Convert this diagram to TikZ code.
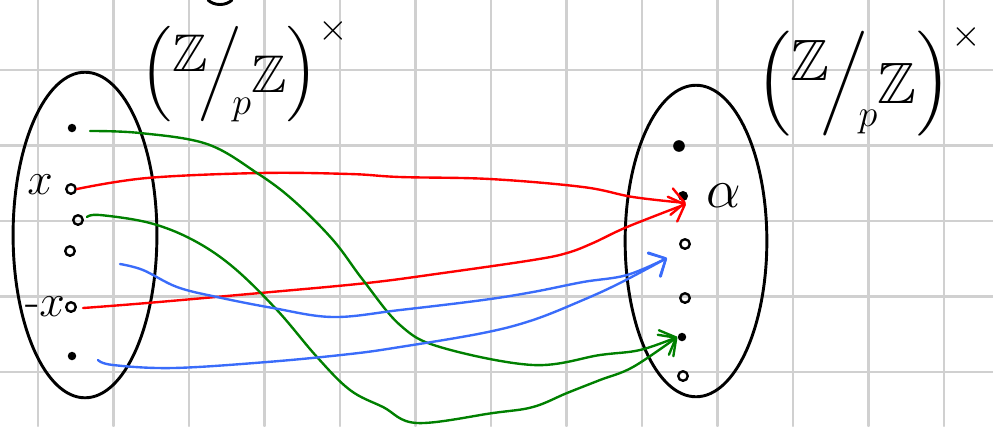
\documentclass[tikz,border=0pt]{standalone}
\usepackage{amssymb}
\usetikzlibrary{shapes.geometric,arrows.meta}
\definecolor{penred}{RGB}{255,0,0}
\definecolor{pengreen}{RGB}{0,128,0}
\definecolor{penblue}{RGB}{58,108,250}
\definecolor{gridgray}{RGB}{208,208,208}
\newcommand{\unitgrp}{$\left(\rule[-0.45em]{0pt}{1.5em}\raisebox{0.3em}{$\mathbb{Z}$}\!\middle/\!\raisebox{-0.5em}{$\scriptstyle p$}\raisebox{-0.1em}{$\mathbb{Z}$}\right)^{\times}$}

\begin{document}
\begin{tikzpicture}[x=0.3775pt, y=-0.3775pt, line cap=round, line join=round,
  set/.style={ellipse, draw, line width=1.1pt, inner sep=0pt},
  dot/.style={circle, fill, inner sep=0pt, minimum size=3.2pt},
  ring/.style={circle, draw, line width=0.9pt, inner sep=0pt, minimum size=3.6pt},
  lbl/.style={inner sep=0pt, font=\fontsize{18}{18}\selectfont},
  map/.style={line width=0.9pt, -{Straight Barb[round, length=5pt, width=10pt]}}]
    \useasboundingbox (0,0) rectangle (993,426);
    % squared paper
    \foreach \gx in {0,...,12}
        \draw[gridgray, line width=0.9pt] ({38+75.5*\gx},0) -- ({38+75.5*\gx},426);
    \foreach \gy in {0,...,4}
        \draw[gridgray, line width=0.9pt] (0,{70+75.5*\gy}) -- (993,{70+75.5*\gy});
    \draw[line width=1.1pt] (208,0) .. controls (214,6) and (226,6) .. (232,0);

    % the two sets
    \node[set, minimum width=54.3pt, minimum height=122.9pt] (setL) at (85,235) {};
    \node[set, minimum width=53.5pt, minimum height=117.6pt] (setR) at (696,241) {};
    \node[lbl, font=\fontsize{20}{20}\selectfont] (titleL) at (245,70) {\unitgrp};
    \node[lbl, font=\fontsize{22}{22}\selectfont] (titleR) at (869,80) {\unitgrp};

    % elements on the left
    \node[dot] (l1) at (72,128) {};
    \node[ring] (xL) at (71,189) {};
    \node[ring] (l3) at (78,220) {};
    \node[ring] (l4) at (70,251) {};
    \node[ring] (mxL) at (71,307) {};
    \node[dot] (l6) at (72,356) {};
    \node[lbl] (xlab) at (40,185) {$x$};
    \node[lbl] (mxlab) at (45,307) {-$x$};

    % elements on the right
    \node[dot, minimum size=4.4pt] (r1) at (679,146) {};
    \node[dot, minimum size=3.8pt] (aR) at (683,196) {};
    \node[ring] (r3) at (685,244) {};
    \node[ring] (r4) at (685,298) {};
    \node[dot] (r5) at (682,337) {};
    \node[ring] (r6) at (683,376) {};
    \node[lbl, font=\fontsize{22}{22}\selectfont] (alab) at (724,196) {$\alpha$};
    \coordinate (bT) at (667,258);

    % x and -x both go to alpha
    \draw[map, penred] plot[smooth, tension=0.6] coordinates {(xL.east) (147,178) (260,173) (350,174) (400,177) (490,179) (583,187) (633,197) (686,203)};
    \draw[map, penred] plot[smooth, tension=0.6] coordinates {(83,308) (147,303) (260,293) (367,283) (443,273) (533,260) (567,253) (593,243) (627,227) (686,204)};
    \draw[map, pengreen] plot[smooth, tension=0.6] coordinates {(90,131) (140,133) (207,144) (257,173) (293,200) (333,240) (363,280) (400,325) (440,347) (533,365) (600,355) (640,350) (r5.west)};
    \draw[map, pengreen] plot[smooth, tension=0.6] coordinates {(87,217) (100,215) (150,223) (193,240) (233,267) (277,310) (317,357) (350,390) (383,407) (417,423) (493,413) (533,407) (567,393) (600,380) (633,367) (r5.west)};
    \draw[map, penblue] plot[smooth, tension=0.6] coordinates {(120,264) (143,270) (177,287) (217,297) (273,308) (333,317) (400,310) (483,300) (533,292) (583,282) (627,275) (bT)};
    \draw[map, penblue] plot[smooth, tension=0.6] coordinates {(98,360) (113,365) (173,368) (267,362) (350,354) (400,347) (483,333) (533,320) (583,300) (620,283) (bT)};
\end{tikzpicture}
\end{document}
